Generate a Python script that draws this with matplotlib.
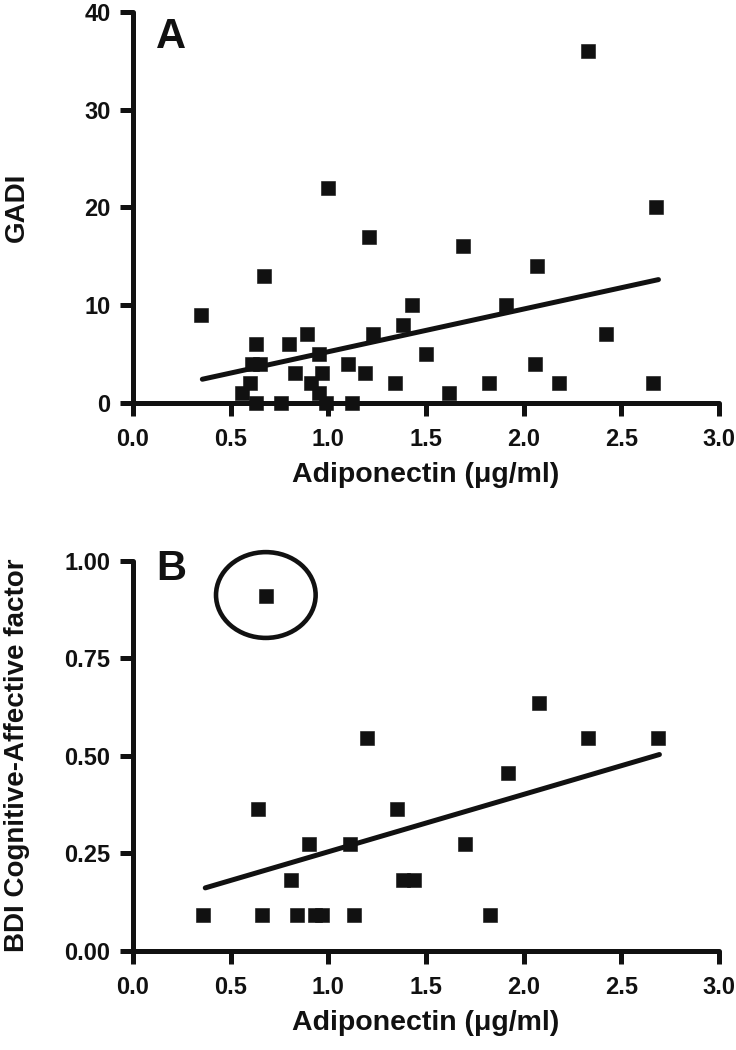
import matplotlib
matplotlib.use("Agg")
import matplotlib.pyplot as plt
from matplotlib.patches import Ellipse
from matplotlib.ticker import FormatStrFormatter

plt.rcParams['font.family'] = ['Liberation Sans', 'DejaVu Sans']
plt.rcParams['font.weight'] = 'bold'

# Panel A data: Adiponectin vs GADI
a_x = [0.35, 0.67, 1.00, 1.21, 1.69, 2.07, 2.33, 2.68, 1.43, 1.91, 1.38, 2.42,
       0.89, 1.23, 0.63, 0.80, 0.95, 1.50, 0.61, 0.65, 1.10, 2.06, 0.83, 0.97,
       1.19, 0.60, 0.91, 1.34, 1.82, 2.18, 2.66, 0.56, 0.95, 1.62, 0.63, 0.76,
       0.99, 1.12]
a_y = [9, 13, 22, 17, 16, 14, 36, 20, 10, 10, 8, 7,
       7, 7, 6, 6, 5, 5, 4, 4, 4, 4, 3, 3,
       3, 2, 2, 2, 2, 2, 2, 1, 1, 1, 0, 0,
       0, 0]
a_fit_x = [0.355, 2.69]
a_fit_y = [2.4, 12.6]

# Panel B data: Adiponectin vs BDI Cognitive-Affective factor
b_x = [0.68, 2.08, 1.20, 2.33, 2.69, 1.92, 0.64, 1.35, 0.90, 1.11, 1.70,
       0.81, 1.38, 1.44, 0.36, 0.66, 0.84, 0.93, 0.97, 1.13, 1.83]
b_y = [0.909, 0.636, 0.545, 0.545, 0.545, 0.455, 0.364, 0.364, 0.273, 0.273, 0.273,
       0.182, 0.182, 0.182, 0.091, 0.091, 0.091, 0.091, 0.091, 0.091, 0.091]
b_fit_x = [0.37, 2.695]
b_fit_y = [0.161, 0.503]
b_outlier = (0.68, 0.912)

x_ticks = [0.0, 0.5, 1.0, 1.5, 2.0, 2.5, 3.0]
a_yticks = [0, 10, 20, 30, 40]
b_yticks = [0.00, 0.25, 0.50, 0.75, 1.00]

INK = '#111111'
fig = plt.figure(figsize=(7.36, 10.5), dpi=100)
axA = fig.add_axes([0.1807, 0.6165, 0.7962, 0.3721])
axB = fig.add_axes([0.1807, 0.0946, 0.7962, 0.3714])

SP = 3.6
for ax in (axA, axB):
    for s in ('top', 'right'):
        ax.spines[s].set_visible(False)
    for s in ('left', 'bottom'):
        ax.spines[s].set_linewidth(SP)
        ax.spines[s].set_color(INK)
        ax.spines[s].set_capstyle('round')
    ax.tick_params(axis='both', direction='out', length=9.2, width=SP,
                   color=INK, labelsize=17, labelcolor=INK)
    ax.tick_params(axis='x', pad=9)
    ax.tick_params(axis='y', pad=7)
    ax.set_xlim(0, 3.0)
    ax.set_xticks(x_ticks)
    ax.xaxis.set_major_formatter(FormatStrFormatter('%.1f'))
    ax.set_xlabel('Adiponectin (μg/ml)', fontsize=20.5, fontweight='bold',
                  labelpad=8, color=INK)

axA.set_ylim(0, 40)
axA.set_yticks(a_yticks)
axA.plot(a_x, a_y, 's', color=INK, markersize=9.6, mew=0.4, clip_on=False, zorder=5)
axA.plot(a_fit_x, a_fit_y, '-', color=INK, lw=3.6, solid_capstyle='round', zorder=4)

axB.set_ylim(0, 1.0)
axB.set_yticks(b_yticks)
axB.yaxis.set_major_formatter(FormatStrFormatter('%.2f'))
axB.plot(b_x, b_y, 's', color=INK, markersize=9.6, mew=0.4, clip_on=False, zorder=5)
axB.plot(b_fit_x, b_fit_y, '-', color=INK, lw=3.6, solid_capstyle='round', zorder=4)
axB.add_patch(Ellipse(b_outlier, width=0.51, height=0.22, fill=False,
                      edgecolor=INK, lw=3.3, zorder=4, clip_on=False))

for ax in (axA, axB):
    for lab in ax.get_xticklabels() + ax.get_yticklabels():
        lab.set_fontweight('bold')

fig.text(156 / 736, 1 - 48 / 1050, 'A', fontsize=30, fontweight='bold',
         ha='left', va='baseline', color=INK)
fig.text(156 / 736, 1 - 580 / 1050, 'B', fontsize=30, fontweight='bold',
         ha='left', va='baseline', color=INK)

fig.text(17 / 736, 1 - 207 / 1050, 'GADI', rotation=90, fontsize=20,
         fontweight='bold', ha='center', va='center', color=INK)
fig.text(17 / 736, 1 - 755 / 1050, 'BDI Cognitive-Affective factor', rotation=90,
         fontsize=20, fontweight='bold', ha='center', va='center', color=INK)

fig.savefig('out.png', dpi=100)
